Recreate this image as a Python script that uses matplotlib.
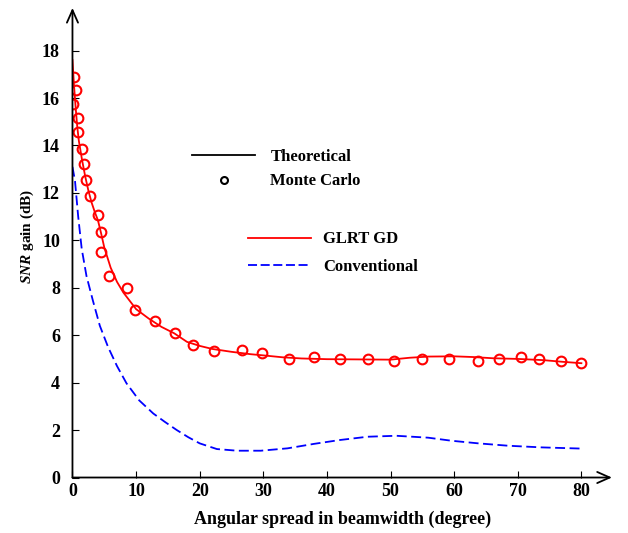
import matplotlib
matplotlib.use("Agg")
import matplotlib.pyplot as plt
from matplotlib.lines import Line2D

plt.rcParams['font.family'] = 'Liberation Serif'
plt.rcParams['font.weight'] = 'bold'
plt.rcParams['mathtext.fontset'] = 'custom'
plt.rcParams['mathtext.rm'] = 'Liberation Serif:bold'
plt.rcParams['mathtext.bfit'] = 'Liberation Serif:italic:bold'

# GLRT GD, theoretical curve
glrt_x = [0, 0.25, 0.5, 0.75, 1, 1.5, 2, 2.5, 3, 3.5, 4, 4.5, 5, 6, 7, 8, 9, 10,
          12, 14, 16, 18, 20, 22, 25, 28, 30, 33, 36, 40, 45, 50, 53, 56, 60,
          63, 66, 70, 74, 77, 80]
glrt_y = [17.6, 16.5, 15.6, 14.8, 14.2, 13.4, 12.7, 12.1, 11.6, 11.2, 10.85, 10.3,
          9.7, 8.85, 8.25, 7.8, 7.45, 7.1, 6.7, 6.35, 6.08, 5.72, 5.55, 5.42, 5.3,
          5.2, 5.15, 5.07, 5.02, 4.99, 4.98, 4.97, 5.05, 5.1, 5.11, 5.08, 5.03,
          5.0, 4.95, 4.88, 4.82]

# GLRT GD, Monte Carlo points
mc_x = [0.24, 0.55, 0.13, 0.9, 0.9, 1.5, 1.8, 2.05, 2.75, 3.96, 4.53, 4.53, 5.8,
        8.6, 9.9, 12.9, 16.1, 18.9, 22.3, 26.7, 29.8, 34.0, 38.0, 42.1, 46.5,
        50.6, 54.9, 59.2, 63.7, 67.1, 70.5, 73.3, 76.8, 79.9]
mc_y = [16.88, 16.36, 15.73, 15.17, 14.55, 13.86, 13.2, 12.55, 11.85, 11.09, 10.35,
        9.51, 8.51, 7.99, 7.08, 6.59, 6.08, 5.58, 5.34, 5.37, 5.26, 4.99, 5.09,
        4.99, 4.98, 4.92, 5.0, 4.99, 4.92, 4.99, 5.09, 4.99, 4.92, 4.83]

# Conventional, theoretical curve
conv_x = [0, 0.4, 0.9, 1.45, 2.2, 3.2, 4.3, 5.6, 7, 8.5, 10.5, 12.7, 14.5, 16.4,
          18.2, 20, 22.7, 25.9, 29.6, 33.8, 38, 42, 46.4, 50.9, 55.9, 59.6, 63.8,
          68.5, 73.8, 80]
conv_y = [13.1, 12.5, 11.0, 9.65, 8.5, 7.47, 6.4, 5.5, 4.7, 3.97, 3.25, 2.7, 2.35,
          2.0, 1.7, 1.44, 1.2, 1.13, 1.13, 1.23, 1.42, 1.58, 1.72, 1.76, 1.68,
          1.55, 1.44, 1.34, 1.27, 1.22]

x_ticks = [0, 10, 20, 30, 40, 50, 60, 70, 80]
y_ticks = [0, 2, 4, 6, 8, 10, 12, 14, 16, 18]

fig = plt.figure(figsize=(6.28, 5.33), dpi=100)
ax = fig.add_axes([0.1154, 0.1041, 0.859, 0.881])

ax.plot(glrt_x, glrt_y, color='red', lw=1.3)
ax.plot(mc_x, mc_y, 'o', mfc='none', mec='red', mew=1.5, ms=7)
ax.plot(conv_x, conv_y, color='blue', lw=1.3, ls=(0, (5.5, 2.5)))

ax.set_xlim(0, 84.8)
ax.set_ylim(0, 19.8)
for s in ax.spines.values():
    s.set_visible(False)
arrow = dict(arrowstyle='->,head_length=0.9,head_width=0.4',
             lw=1.3, color='black', shrinkA=0, shrinkB=0)
ax.annotate('', xy=(1, 0), xytext=(0, 0), xycoords='axes fraction', arrowprops=arrow)
ax.annotate('', xy=(0, 1), xytext=(0, 0), xycoords='axes fraction', arrowprops=arrow)

ax.set_xticks(x_ticks)
ax.set_yticks(y_ticks)
ax.tick_params(direction='in', length=5, width=0.8, labelsize=13)
ax.tick_params(axis='x', pad=4)
ax.tick_params(axis='y', pad=9)
for lab in ax.get_xticklabels() + ax.get_yticklabels():
    lab.set_fontweight('bold')

ax.set_xlabel('Angular spread in beamwidth (degree)', fontsize=13,
              fontweight='bold', labelpad=8)
ax.set_ylabel(r'$\mathbfit{SNR}$ gain (dB)', fontsize=11, fontweight='bold')
ax.yaxis.set_label_coords(-0.068, 0.514)

h1 = [Line2D([], [], color='black', lw=1.3),
      Line2D([], [], ls='none', marker='o', mfc='none', mec='black', mew=1.5, ms=5)]
leg1 = ax.legend(h1, ['Theoretical', 'Monte Carlo'], loc='upper left',
                 bbox_to_anchor=(0.194, 0.7315), frameon=False, handlelength=3.8,
                 prop={'weight': 'bold', 'size': 12}, labelspacing=0.5,
                 handletextpad=0.9)
ax.add_artist(leg1)
h2 = [Line2D([], [], color='red', lw=1.3),
      Line2D([], [], color='blue', lw=1.3, ls=(0, (5, 2)))]
ax.legend(h2, ['GLRT GD', 'Conventional'], loc='upper left',
          bbox_to_anchor=(0.2975, 0.556), frameon=False, handlelength=3.8,
          prop={'weight': 'bold', 'size': 12}, labelspacing=0.7,
          handletextpad=0.72)

fig.savefig('out.png', dpi=100)
